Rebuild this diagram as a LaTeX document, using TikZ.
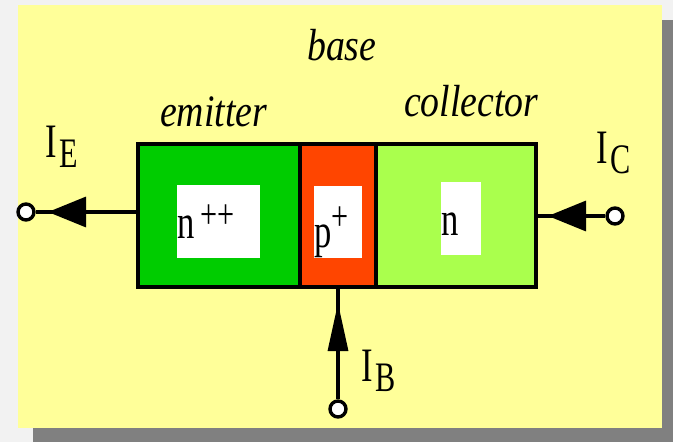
\documentclass[tikz,border=0pt]{standalone}
\usepackage{fontspec}
\setmainfont{Liberation Serif}
\usetikzlibrary{arrows.meta}
\definecolor{pagebg}{HTML}{F2F2F2}
\definecolor{panel}{HTML}{FFFF99}
\definecolor{shadowc}{HTML}{808080}
\definecolor{emitc}{HTML}{00CC00}
\definecolor{basec}{HTML}{FF4500}
\definecolor{collc}{HTML}{AAFF4D}
\tikzset{
  x=1pt,y=-1pt,
  regionbox/.style={draw=black,line width=4.2pt,minimum height=143pt,inner sep=0pt,anchor=north west},
  dopebox/.style={fill=white,inner sep=0pt,anchor=north west},
  lablabel/.style={inner sep=0pt,font=\fontsize{48}{48}\selectfont,xscale=.72,anchor=base west},
  partlabel/.style={inner sep=0pt,font=\fontsize{45}{45}\selectfont\itshape,xscale=.84,anchor=base west},
  termdot/.style={circle,draw=black,fill=white,line width=3.4pt,minimum size=16pt,inner sep=0pt},
  leadline/.style={draw=black,line width=3.2pt},
  headh/.style={-{Triangle[length=38pt,width=30pt]}},
  headv/.style={-{Triangle[length=48pt,width=20pt]}}
}
\newcommand{\subtxt}[1]{\kern.07em\raisebox{-.22em}{\fontsize{42}{42}\selectfont #1}}
\newcommand{\suptxt}[1]{\raisebox{.2em}{\fontsize{42}{42}\selectfont #1}}
\begin{document}
\begin{tikzpicture}
\useasboundingbox (0,0) rectangle (673,442);
\fill[pagebg] (0,0) rectangle (673,442);
\fill[shadowc] (33,20) rectangle (673,442);
\fill[panel] (18,5) rectangle (662,428);
\node[regionbox,fill=emitc,minimum width=164pt] (E) at (135.5,142) {};
\node[regionbox,fill=collc,minimum width=162pt] (C) at (371.5,142) {};
\node[regionbox,fill=basec,minimum width=76pt] (B) at (297.5,142) {};
\node[dopebox,minimum width=83pt,minimum height=73pt] (dn) at (177,185) {};
\node[dopebox,minimum width=48pt,minimum height=72pt] (dp) at (314,186) {};
\node[dopebox,minimum width=40pt,minimum height=73pt] (dc) at (441,182) {};
\node[lablabel] (tn) at (177,238) {n\,\suptxt{++}};
\node[lablabel] (tp) at (314,247) {p\raisebox{.14em}{\suptxt{+}}};
\node[lablabel] (tc) at (441,235) {n};
\node[partlabel] (nb) at (307,60) {base};
\node[partlabel] (ne) at (160,126) {emitter};
\node[partlabel] (nc) at (404,116) {collector};
\node[termdot] (te) at (26,212) {};
\node[termdot] (tb) at (338,409) {};
\node[termdot] (tr) at (615,216) {};
\coordinate (ae) at (137,212);
\coordinate (ac) at (535,216);
\coordinate (ab) at (338,286);
\coordinate (he) at (86,212);
\coordinate (hc) at (586,216);
\coordinate (hb) at (338,351);
\coordinate (ee) at (48,212);
\coordinate (ec) at (548,216);
\coordinate (eb) at (338,303);
\draw[leadline] (ae) -- (te);
\draw[leadline,headh] (he) -- (ee);
\draw[leadline] (tr) -- (ac);
\draw[leadline,headh] (hc) -- (ec);
\draw[leadline] (tb) -- (ab);
\draw[leadline,headv] (hb) -- (eb);
\node[lablabel] (ie) at (45,157) {I\subtxt{E}};
\node[lablabel] (ic) at (596,163) {I\subtxt{C}};
\node[lablabel] (ib) at (361,381) {I\subtxt{B}};
\end{tikzpicture}
\end{document}
